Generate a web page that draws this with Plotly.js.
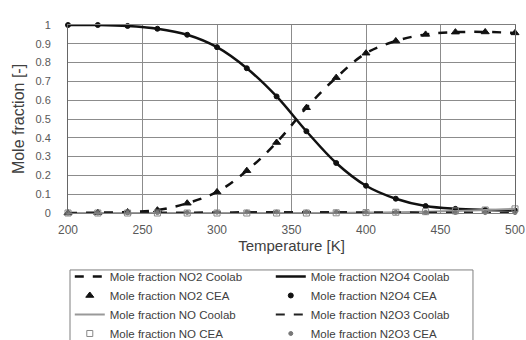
<!DOCTYPE html>
<html><head><meta charset="utf-8">
<script src="https://cdn.plot.ly/plotly-3.0.1.min.js"></script>
<style>html,body{margin:0;padding:0;background:#fff}#chart{width:526px;height:340px}</style>
</head><body><div id="chart"></div>
<script>
var temperature = [200,220,240,260,280,300,320,340,360,380,400,420,440,460,480,500];
var no2 = [0.0,0.002,0.005,0.015,0.052,0.112,0.225,0.375,0.56,0.72,0.85,0.915,0.95,0.962,0.963,0.958];
var n2o4 = [1.0,1.0,0.995,0.98,0.948,0.882,0.77,0.62,0.435,0.266,0.145,0.076,0.037,0.022,0.016,0.013];
var no = [0.0,0.0,0.0,0.0,0.0,0.0,0.0,0.0,0.0,0.001,0.002,0.004,0.007,0.011,0.016,0.022];
var n2o3 = [0.0,0.0,0.001,0.002,0.003,0.004,0.005,0.005,0.005,0.005,0.004,0.004,0.003,0.003,0.002,0.002];
var names = {
  no2L:'Mole fraction NO2 Coolab', no2M:'Mole fraction NO2 CEA',
  noL:'Mole fraction NO Coolab', noM:'Mole fraction NO CEA',
  n2o4L:'Mole fraction N2O4 Coolab', n2o4M:'Mole fraction N2O4 CEA',
  n2o3L:'Mole fraction N2O3 Coolab', n2o3M:'Mole fraction N2O3 CEA'
};
function line(y,name,color,dash,w){return {x:temperature,y:y,name:name,type:'scatter',mode:'lines',line:{color:color,dash:dash,width:w,shape:'spline'},cliponaxis:false};}
function mark(y,name,sym,color,size,lc){return {x:temperature,y:y,name:name,type:'scatter',mode:'markers',marker:{symbol:sym,color:color,size:size,line:{color:lc||color,width:1}},cliponaxis:false};}
var traces = [
  line(no2,names.no2L,'#111','dash',2.5),
  line(n2o4,names.n2o4L,'#111','solid',2.5),
  mark(no2,names.no2M,'triangle-up','#111',7),
  mark(n2o4,names.n2o4M,'circle','#111',5),
  line(no,names.noL,'#999','solid',2),
  line(n2o3,names.n2o3L,'#222','dash',2),
  mark(no,names.noM,'square-open','#888',6),
  mark(n2o3,names.n2o3M,'circle','#777',4)
];
var FF='Liberation Sans, Arial, sans-serif';
var layout={
  width:526,height:340,
  margin:{l:68,r:11,t:25,b:127,autoexpand:false},
  paper_bgcolor:'#fff',plot_bgcolor:'#fff',
  showlegend:true,
  xaxis:{range:[200,500],dtick:50,tick0:200,showgrid:true,gridcolor:'#8c8c8c',gridwidth:1,
    showline:true,linecolor:'#7f7f7f',linewidth:1,mirror:true,zeroline:false,
    ticks:'outside',ticklen:6,tickcolor:'rgba(0,0,0,0)',tickfont:{family:FF,size:12,color:'#595959'},
    title:{text:'Temperature [K]',font:{family:FF,size:15,color:'#404040'},standoff:4}},
  yaxis:{range:[0,1],dtick:0.1,showgrid:true,gridcolor:'#8c8c8c',gridwidth:1,
    showline:true,linecolor:'#666',linewidth:1,mirror:true,zeroline:false,
    ticks:'outside',ticklen:14,tickcolor:'rgba(0,0,0,0)',tickfont:{family:FF,size:11,color:'#595959'},
    title:{text:'Mole fraction [-]',font:{family:FF,size:16,color:'#404040'},standoff:6}},
  shapes:[{type:'rect',xref:'paper',yref:'paper',x0:0.0045,x1:0.906,y0:-0.303,y1:-0.75,
    line:{color:'#7f7f7f',width:1},fillcolor:'rgba(0,0,0,0)',layer:'above'}],
  legend:{orientation:'h',x:0.004,xanchor:'left',y:-0.2606,yanchor:'top',entrywidth:156,entrywidthmode:'pixels',
    borderwidth:0,bgcolor:'rgba(0,0,0,0)',tracegroupgap:0,
    font:{family:FF,size:11.5,color:'#404040'}}
};
Plotly.newPlot('chart',traces,layout,{displayModeBar:false,staticPlot:true});
</script></body></html>
